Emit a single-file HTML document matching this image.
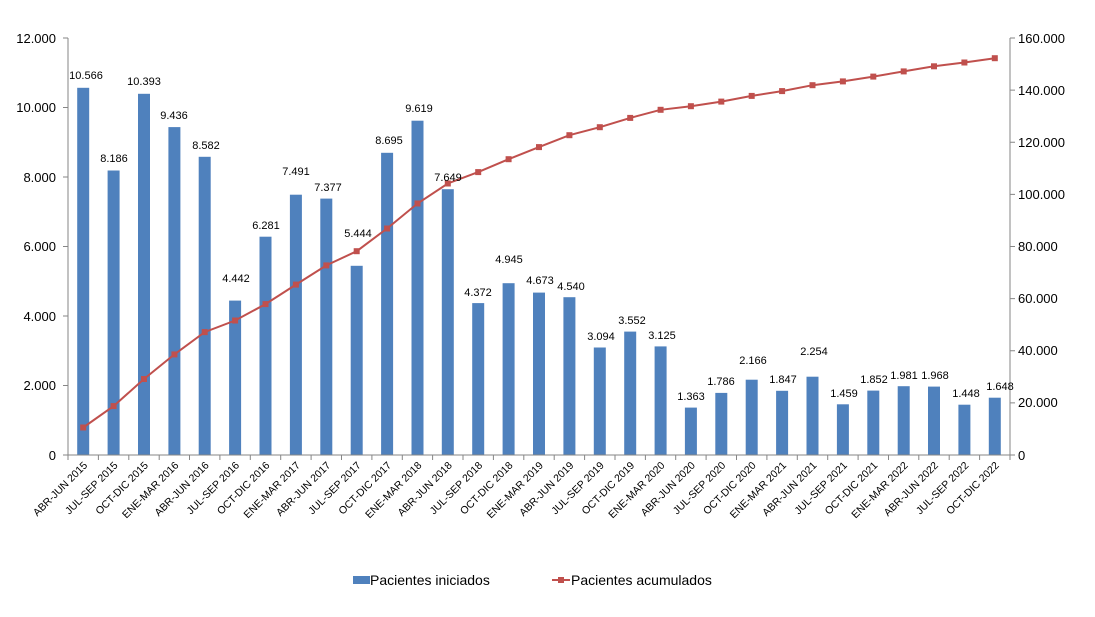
<!DOCTYPE html>
<html><head><meta charset="utf-8"><style>
html,body{margin:0;padding:0;background:#fff;}
svg{display:block;font-family:"Liberation Sans",sans-serif;}
.bl{font-size:11px;text-anchor:middle;fill:#000;}
.ax{font-size:13px;fill:#000;}
.xl{font-size:10.5px;fill:#000;text-anchor:end;}
</style></head><body>
<svg width="1095" height="617" viewBox="0 0 1095 617">
<g fill="#4f81bd">
<rect x="77.2" y="87.8" width="12" height="367.2"/>
<rect x="107.6" y="170.5" width="12" height="284.5"/>
<rect x="138" y="93.8" width="12" height="361.2"/>
<rect x="168.4" y="127.1" width="12" height="327.9"/>
<rect x="198.7" y="156.8" width="12" height="298.2"/>
<rect x="229.1" y="300.6" width="12" height="154.4"/>
<rect x="259.5" y="236.7" width="12" height="218.3"/>
<rect x="289.9" y="194.7" width="12" height="260.3"/>
<rect x="320.3" y="198.6" width="12" height="256.4"/>
<rect x="350.7" y="265.8" width="12" height="189.2"/>
<rect x="381.1" y="152.8" width="12" height="302.2"/>
<rect x="411.5" y="120.7" width="12" height="334.3"/>
<rect x="441.8" y="189.2" width="12" height="265.8"/>
<rect x="472.2" y="303.1" width="12" height="151.9"/>
<rect x="502.6" y="283.2" width="12" height="171.8"/>
<rect x="533" y="292.6" width="12" height="162.4"/>
<rect x="563.4" y="297.2" width="12" height="157.8"/>
<rect x="593.8" y="347.5" width="12" height="107.5"/>
<rect x="624.2" y="331.6" width="12" height="123.4"/>
<rect x="654.6" y="346.4" width="12" height="108.6"/>
<rect x="684.9" y="407.6" width="12" height="47.4"/>
<rect x="715.3" y="392.9" width="12" height="62.1"/>
<rect x="745.7" y="379.7" width="12" height="75.3"/>
<rect x="776.1" y="390.8" width="12" height="64.2"/>
<rect x="806.5" y="376.7" width="12" height="78.3"/>
<rect x="836.9" y="404.3" width="12" height="50.7"/>
<rect x="867.3" y="390.6" width="12" height="64.4"/>
<rect x="897.7" y="386.2" width="12" height="68.8"/>
<rect x="928" y="386.6" width="12" height="68.4"/>
<rect x="958.4" y="404.7" width="12" height="50.3"/>
<rect x="988.8" y="397.7" width="12" height="57.3"/>
</g>
<g stroke="#868686" stroke-width="1" fill="none">
<line x1="68" y1="38" x2="68" y2="455"/>
<line x1="1010" y1="38" x2="1010" y2="455"/>
<line x1="68" y1="455" x2="1010" y2="455"/>
<path d="M63 38H68M63 107.5H68M63 177H68M63 246.5H68M63 316H68M63 385.5H68M63 455H68"/>
<path d="M1010 38H1015M1010 90.1H1015M1010 142.3H1015M1010 194.4H1015M1010 246.5H1015M1010 298.6H1015M1010 350.8H1015M1010 402.9H1015M1010 455H1015"/>
<path d="M68 455v5M98.4 455v5M128.8 455v5M159.2 455v5M189.5 455v5M219.9 455v5M250.3 455v5M280.7 455v5M311.1 455v5M341.5 455v5M371.9 455v5M402.3 455v5M432.6 455v5M463 455v5M493.4 455v5M523.8 455v5M554.2 455v5M584.6 455v5M615 455v5M645.4 455v5M675.7 455v5M706.1 455v5M736.5 455v5M766.9 455v5M797.3 455v5M827.7 455v5M858.1 455v5M888.5 455v5M918.8 455v5M949.2 455v5M979.6 455v5M1010 455v5"/>
</g>
<polyline fill="none" stroke="#c0504d" stroke-width="2" points="83.2,427.5 113.6,406.1 144,379 174.4,354.4 204.7,332.1 235.1,320.5 265.5,304.1 295.9,284.6 326.3,265.4 356.7,251.2 387.1,228.5 417.5,203.5 447.8,183.5 478.2,172.1 508.6,159.2 539,147.1 569.4,135.2 599.8,127.2 630.2,117.9 660.6,109.8 690.9,106.2 721.3,101.6 751.7,95.9 782.1,91.1 812.5,85.2 842.9,81.4 873.3,76.6 903.7,71.4 934,66.3 964.4,62.5 994.8,58.2"/>
<g fill="#c0504d">
<rect x="80.2" y="424.5" width="6" height="6"/><rect x="110.6" y="403.1" width="6" height="6"/><rect x="141" y="376" width="6" height="6"/><rect x="171.4" y="351.4" width="6" height="6"/><rect x="201.7" y="329.1" width="6" height="6"/><rect x="232.1" y="317.5" width="6" height="6"/><rect x="262.5" y="301.1" width="6" height="6"/><rect x="292.9" y="281.6" width="6" height="6"/><rect x="323.3" y="262.4" width="6" height="6"/><rect x="353.7" y="248.2" width="6" height="6"/><rect x="384.1" y="225.5" width="6" height="6"/><rect x="414.5" y="200.5" width="6" height="6"/><rect x="444.8" y="180.5" width="6" height="6"/><rect x="475.2" y="169.1" width="6" height="6"/><rect x="505.6" y="156.2" width="6" height="6"/><rect x="536" y="144.1" width="6" height="6"/><rect x="566.4" y="132.2" width="6" height="6"/><rect x="596.8" y="124.2" width="6" height="6"/><rect x="627.2" y="114.9" width="6" height="6"/><rect x="657.6" y="106.8" width="6" height="6"/><rect x="687.9" y="103.2" width="6" height="6"/><rect x="718.3" y="98.6" width="6" height="6"/><rect x="748.7" y="92.9" width="6" height="6"/><rect x="779.1" y="88.1" width="6" height="6"/><rect x="809.5" y="82.2" width="6" height="6"/><rect x="839.9" y="78.4" width="6" height="6"/><rect x="870.3" y="73.6" width="6" height="6"/><rect x="900.7" y="68.4" width="6" height="6"/><rect x="931" y="63.3" width="6" height="6"/><rect x="961.4" y="59.5" width="6" height="6"/><rect x="991.8" y="55.2" width="6" height="6"/>
</g>
<g class="bl">
<text x="86" y="79">10.566</text><text x="114" y="162">8.186</text><text x="144" y="85">10.393</text><text x="174" y="119">9.436</text><text x="206" y="149">8.582</text><text x="236" y="282">4.442</text><text x="266" y="229">6.281</text><text x="296" y="175">7.491</text><text x="328" y="191">7.377</text><text x="358" y="237">5.444</text><text x="389" y="144">8.695</text><text x="419" y="112">9.619</text><text x="448" y="181">7.649</text><text x="478" y="296">4.372</text><text x="509" y="263">4.945</text><text x="540" y="284">4.673</text><text x="571" y="290">4.540</text><text x="601" y="340">3.094</text><text x="632" y="324">3.552</text><text x="662" y="339">3.125</text><text x="691" y="400">1.363</text><text x="721" y="385">1.786</text><text x="753" y="364">2.166</text><text x="783" y="383">1.847</text><text x="814" y="355">2.254</text><text x="844" y="397">1.459</text><text x="874" y="383">1.852</text><text x="904" y="379">1.981</text><text x="935" y="379">1.968</text><text x="966" y="397">1.448</text><text x="1000" y="390">1.648</text>
</g>
<g class="ax" text-anchor="end">
<text x="56" y="43">12.000</text><text x="56" y="112">10.000</text><text x="56" y="182">8.000</text><text x="56" y="251">6.000</text><text x="56" y="321">4.000</text><text x="56" y="390">2.000</text><text x="56" y="460">0</text>
</g>
<g class="ax">
<text x="1018" y="43">160.000</text><text x="1018" y="95">140.000</text><text x="1018" y="147">120.000</text><text x="1018" y="199">100.000</text><text x="1018" y="251">80.000</text><text x="1018" y="303">60.000</text><text x="1018" y="355">40.000</text><text x="1018" y="407">20.000</text><text x="1018" y="460">0</text>
</g>
<g class="xl">
<text transform="translate(88,466) rotate(-45)">ABR-JUN 2015</text>
<text transform="translate(118.4,466) rotate(-45)">JUL-SEP 2015</text>
<text transform="translate(148.8,466) rotate(-45)">OCT-DIC 2015</text>
<text transform="translate(179.2,466) rotate(-45)">ENE-MAR 2016</text>
<text transform="translate(209.5,466) rotate(-45)">ABR-JUN 2016</text>
<text transform="translate(239.9,466) rotate(-45)">JUL-SEP 2016</text>
<text transform="translate(270.3,466) rotate(-45)">OCT-DIC 2016</text>
<text transform="translate(300.7,466) rotate(-45)">ENE-MAR 2017</text>
<text transform="translate(331.1,466) rotate(-45)">ABR-JUN 2017</text>
<text transform="translate(361.5,466) rotate(-45)">JUL-SEP 2017</text>
<text transform="translate(391.9,466) rotate(-45)">OCT-DIC 2017</text>
<text transform="translate(422.3,466) rotate(-45)">ENE-MAR 2018</text>
<text transform="translate(452.6,466) rotate(-45)">ABR-JUN 2018</text>
<text transform="translate(483,466) rotate(-45)">JUL-SEP 2018</text>
<text transform="translate(513.4,466) rotate(-45)">OCT-DIC 2018</text>
<text transform="translate(543.8,466) rotate(-45)">ENE-MAR 2019</text>
<text transform="translate(574.2,466) rotate(-45)">ABR-JUN 2019</text>
<text transform="translate(604.6,466) rotate(-45)">JUL-SEP 2019</text>
<text transform="translate(635,466) rotate(-45)">OCT-DIC 2019</text>
<text transform="translate(665.4,466) rotate(-45)">ENE-MAR 2020</text>
<text transform="translate(695.7,466) rotate(-45)">ABR-JUN 2020</text>
<text transform="translate(726.1,466) rotate(-45)">JUL-SEP 2020</text>
<text transform="translate(756.5,466) rotate(-45)">OCT-DIC 2020</text>
<text transform="translate(786.9,466) rotate(-45)">ENE-MAR 2021</text>
<text transform="translate(817.3,466) rotate(-45)">ABR-JUN 2021</text>
<text transform="translate(847.7,466) rotate(-45)">JUL-SEP 2021</text>
<text transform="translate(878.1,466) rotate(-45)">OCT-DIC 2021</text>
<text transform="translate(908.5,466) rotate(-45)">ENE-MAR 2022</text>
<text transform="translate(938.8,466) rotate(-45)">ABR-JUN 2022</text>
<text transform="translate(969.2,466) rotate(-45)">JUL-SEP 2022</text>
<text transform="translate(999.6,466) rotate(-45)">OCT-DIC 2022</text>
</g>
<rect x="353" y="576" width="17" height="8" fill="#4f81bd"/>
<text x="370" y="585" style="font-size:14px">Pacientes iniciados</text>
<line x1="552" y1="580" x2="570" y2="580" stroke="#c0504d" stroke-width="2"/>
<rect x="558" y="577" width="6" height="6" fill="#c0504d"/>
<text x="571" y="585" style="font-size:14px">Pacientes acumulados</text>
</svg>
</body></html>
